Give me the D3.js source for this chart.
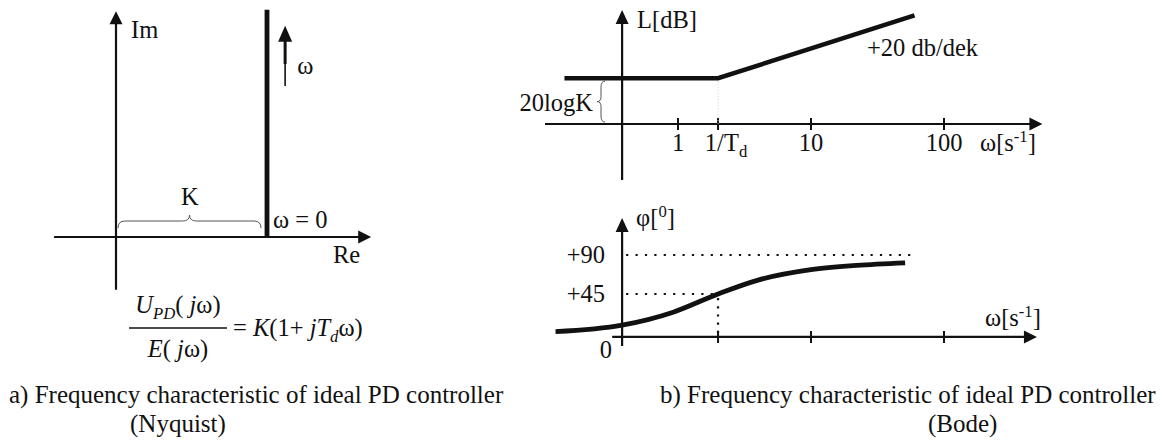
<!DOCTYPE html>
<html>
<head>
<meta charset="utf-8">
<script src="https://cdn.jsdelivr.net/npm/d3@7"></script>
<style>
  body { margin: 0; background: #fff; }
  text { font-family: "Liberation Serif", "Times New Roman", serif; fill: #111; }
</style>
</head>
<body>
<div id="chart"></div>
<script>
// a) Nyquist of ideal PD: Re stays at K, Im grows with omega (K = 1 unit)
var nyqRe = [1, 1]
var nyqIm = [0, 1.55]

// b) Bode magnitude asymptote, w in s^-1, L in dB
var magW = [0.14, 2, 60]
var magDb = [21.6, 21.6, 51.2]
var magTicks = [1, 2, 10, 100]
var magTickLabels = ["1", "1/T", "10", "100"]

// b) Bode phase, degrees
var phaseW = [0.12, 0.38, 0.92, 2, 4, 10, 22, 51]
var phaseDeg = [1.5, 9, 24, 45, 61, 73, 78, 81]
var phaseTicks = [2, 10, 100]
var phaseLevels = [90, 45]
var phaseLabels = ["+90", "+45"]

var W = 1167, H = 443
var ink = "#111"
var fs = 24.5, capFs = 25

var svg = d3.select("#chart")
  .append("svg")
  .attr("width", W)
  .attr("height", H)

// scales
var reX = d3.scaleLinear().domain([0, 1]).range([116, 267])
var imY = d3.scaleLinear().domain([0, 1.5]).range([237, 17])

var wX = d3.scaleLog().domain([0.1, 1000]).range([545, 1077])
var dbY = d3.scaleLinear().domain([0, 50]).range([124, 18])
var degY = d3.scaleLinear().domain([0, 90]).range([333, 255])

var axisW = 0.38      // where the vertical bode axes cross
var phaseAxisDeg = -4.5

function arrow(g, x1, y1, x2, y2, len, half, sw) {
  var dx = x2 - x1, dy = y2 - y1, L = Math.hypot(dx, dy)
  var ux = dx / L, uy = dy / L
  var bx = x2 - ux * len, by = y2 - uy * len
  g.append("line")
    .attr("x1", x1).attr("y1", y1)
    .attr("x2", bx + ux * 2).attr("y2", by + uy * 2)
    .attr("stroke", ink).attr("stroke-width", sw)
  g.append("path")
    .attr("d", "M" + x2 + "," + y2 +
      "L" + (bx - uy * half) + "," + (by + ux * half) +
      "L" + (bx + uy * half) + "," + (by - ux * half) + "Z")
    .attr("fill", ink)
}

// parts: [text, kind] kind: "" normal, "i" italic, "sub", "sup"
function label(g, x, y, parts, size, anchor) {
  var t = g.append("text")
    .attr("x", x).attr("y", y)
    .attr("font-size", size)
    .attr("text-anchor", anchor || "start")
  var shift = 0
  parts.forEach(function(p) {
    var s = t.append("tspan").text(p[0])
    var kind = p[1] || ""
    var want = 0
    if (kind.indexOf("sub") >= 0) want = size * 0.24
    if (kind.indexOf("sup") >= 0) want = -size * 0.38
    if (want != shift) { s.attr("dy", want - shift); shift = want }
    if (kind.indexOf("sub") >= 0 || kind.indexOf("sup") >= 0) s.attr("font-size", size * 0.68)
    if (kind.indexOf("i") >= 0) s.attr("font-style", "italic")
  })
  return t
}

var g = svg.append("g")

// ---------- a) Nyquist ----------
arrow(g, reX(0), imY(-0.36), reX(0), imY(1.54), 13, 6.5, 2.2)
arrow(g, reX(-0.41), imY(0), reX(1.69), imY(0), 13, 6.5, 2.2)

g.append("path")
  .attr("d", d3.line().x(function(d, i) { return reX(d) }).y(function(d, i) { return imY(nyqIm[i]) })(nyqRe))
  .attr("stroke", ink)
  .attr("stroke-width", 4.8)
  .attr("fill", "none")

// direction of increasing omega (thin tail, thick near the head)
g.append("line")
  .attr("x1", reX(1.12)).attr("x2", reX(1.12))
  .attr("y1", imY(1.03)).attr("y2", imY(1.2))
  .attr("stroke", ink).attr("stroke-width", 1.6)
arrow(g, reX(1.12), imY(1.18), reX(1.12), imY(1.44), 16, 7, 3)

label(g, reX(0) + 15, 38, [["Im"]], fs)
label(g, reX(1.2), 74, [["ω"]], fs)
label(g, 181, 205, [["K"]], fs)
label(g, reX(1) + 6, 228, [["ω = 0"]], fs)
label(g, 333, 263, [["Re"]], fs)

// brace over 0..K
var bx0 = reX(0) + 2, bx1 = reX(1) - 6, bm = (bx0 + bx1) / 2, by = 221
g.append("path")
  .attr("d", "M" + bx0 + ",228 Q" + bx0 + "," + by + " " + (bx0 + 7) + "," + by +
    " L" + (bm - 7) + "," + by + " Q" + bm + "," + by + " " + bm + "," + (by - 6) +
    " Q" + bm + "," + by + " " + (bm + 7) + "," + by +
    " L" + (bx1 - 7) + "," + by + " Q" + bx1 + "," + by + " " + bx1 + ",228")
  .attr("stroke", "#555")
  .attr("stroke-width", 1)
  .attr("fill", "none")

// transfer function
label(g, 178, 313, [["U", "i"], ["PD", "i sub"], ["( "], ["j", "i"], ["ω)"]], fs, "middle")
g.append("line")
  .attr("x1", 129).attr("x2", 227)
  .attr("y1", 328).attr("y2", 328)
  .attr("stroke", ink).attr("stroke-width", 1.3)
label(g, 178, 357, [["E", "i"], ["( "], ["j", "i"], ["ω)"]], fs, "middle")
label(g, 233, 336, [["= "], ["K", "i"], ["(1+ "], ["j", "i"], ["T", "i"], ["d", "i sub"], ["ω)"]], fs)

label(g, 9, 403, [["a) Frequency characteristic of ideal PD controller"]], capFs)
label(g, 130, 432, [["(Nyquist)"]], capFs)

// ---------- b) Bode magnitude ----------
var ax = wX(axisW)
arrow(g, ax, dbY(-26.4), ax, dbY(53.8), 14, 6.5, 2.2)
arrow(g, wX(0.1), dbY(0), wX(550), dbY(0), 13, 6.5, 2.2)

g.selectAll(".magtick")
  .data(magTicks)
  .enter().append("line")
  .attr("class", "magtick")
  .attr("x1", function(d) { return wX(d) }).attr("x2", function(d) { return wX(d) })
  .attr("y1", dbY(0) - 6).attr("y2", dbY(0) + 6)
  .attr("stroke", ink).attr("stroke-width", 2)

magTicks.forEach(function(d, i) {
  if (magTickLabels[i] == "1/T") {
    label(g, wX(d) + 8, 151, [["1/T"], ["d", "sub"]], fs, "middle")
  } else {
    label(g, wX(d), 151, [[magTickLabels[i]]], fs, "middle")
  }
})
label(g, 980, 151, [["ω[s"], ["-1", "sup"], ["]"]], fs)

// faint guide under the break frequency
g.append("line")
  .attr("x1", wX(2)).attr("x2", wX(2))
  .attr("y1", dbY(magDb[1]) + 3).attr("y2", dbY(0))
  .attr("stroke", "#ccc").attr("stroke-width", 1)
  .attr("stroke-dasharray", "1,2")

g.append("path")
  .attr("d", d3.line().x(function(d) { return wX(d) }).y(function(d, i) { return dbY(magDb[i]) })(magW))
  .attr("stroke", ink)
  .attr("stroke-width", 4.5)
  .attr("fill", "none")

label(g, ax + 15, 28, [["L[dB]"]], fs)
label(g, 867, 56, [["+20 db/dek"]], fs)
label(g, 593, 111, [["20logK"]], fs, "end")

// brace for 20logK
var ky0 = dbY(magDb[0]) + 3, ky1 = dbY(0) - 2, km = (ky0 + ky1) / 2, kx = 601
g.append("path")
  .attr("d", "M" + (kx + 4) + "," + ky0 + " Q" + kx + "," + ky0 + " " + kx + "," + (ky0 + 6) +
    " L" + kx + "," + (km - 5) + " Q" + kx + "," + km + " " + (kx - 4) + "," + km +
    " Q" + kx + "," + km + " " + kx + "," + (km + 5) +
    " L" + kx + "," + (ky1 - 6) + " Q" + kx + "," + ky1 + " " + (kx + 4) + "," + ky1)
  .attr("stroke", "#555")
  .attr("stroke-width", 1)
  .attr("fill", "none")

// ---------- b) Bode phase ----------
var py = degY(phaseAxisDeg)
arrow(g, ax, degY(-15), ax, degY(132.7), 14, 6.5, 2.2)
arrow(g, wX(0.32), py, wX(500), py, 13, 6.5, 2.2)

g.selectAll(".phtick")
  .data(phaseTicks)
  .enter().append("line")
  .attr("class", "phtick")
  .attr("x1", function(d) { return wX(d) }).attr("x2", function(d) { return wX(d) })
  .attr("y1", py - 6).attr("y2", py + 6)
  .attr("stroke", ink).attr("stroke-width", 2)

// dotted reference levels
g.append("line")
  .attr("x1", ax + 4).attr("x2", wX(60))
  .attr("y1", degY(90)).attr("y2", degY(90))
  .attr("stroke", ink).attr("stroke-width", 2.2)
  .attr("stroke-dasharray", "2.2,7.2")
g.append("line")
  .attr("x1", ax + 4).attr("x2", wX(2))
  .attr("y1", degY(45)).attr("y2", degY(45))
  .attr("stroke", ink).attr("stroke-width", 2.2)
  .attr("stroke-dasharray", "2.2,7.2")
g.append("line")
  .attr("x1", wX(2)).attr("x2", wX(2))
  .attr("y1", degY(45) + 4).attr("y2", py)
  .attr("stroke", ink).attr("stroke-width", 2.2)
  .attr("stroke-dasharray", "2.2,6")

g.append("path")
  .attr("d", d3.line()
    .x(function(d) { return wX(d) })
    .y(function(d, i) { return degY(phaseDeg[i]) })
    .curve(d3.curveMonotoneX)(phaseW))
  .attr("stroke", ink)
  .attr("stroke-width", 4.8)
  .attr("fill", "none")

phaseLevels.forEach(function(d, i) {
  label(g, 605, degY(d) + 8, [[phaseLabels[i]]], fs, "end")
})
label(g, 612, 358, [["0"]], fs, "end")
label(g, ax + 14, 226, [["φ["], ["0", "sup"], ["]"]], fs)
label(g, 985, 326, [["ω[s"], ["-1", "sup"], ["]"]], fs)

label(g, 660, 403, [["b) Frequency characteristic of ideal PD controller"]], capFs)
label(g, 928, 432, [["(Bode)"]], capFs)
</script>
</body>
</html>
